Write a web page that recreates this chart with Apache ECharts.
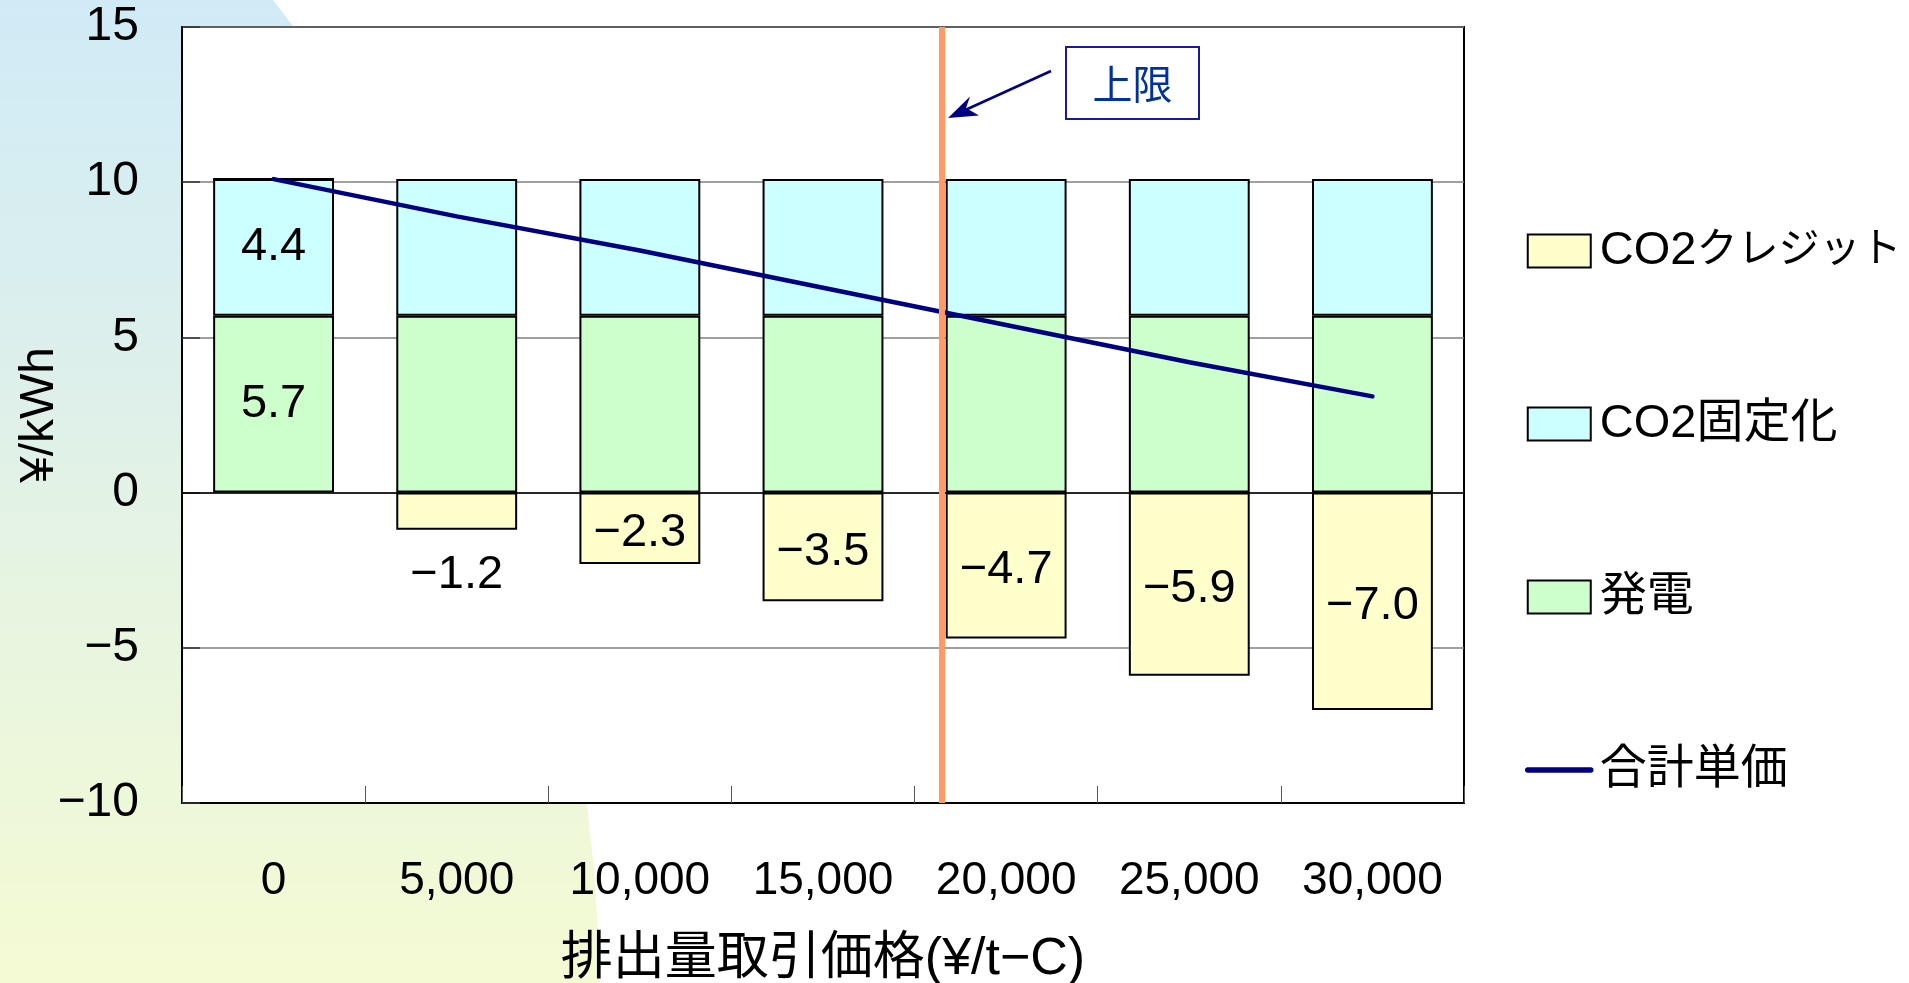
<!DOCTYPE html>
<html>
<head>
<meta charset="utf-8">
<script src="https://cdn.jsdelivr.net/npm/echarts@6/dist/echarts.min.js"></script>
<style>
  html, body { margin: 0; padding: 0; background: #fff; }
  #chart { width: 1909px; height: 983px; }
</style>
</head>
<body>
<div id="chart"></div>
<script>
// Emission trading price categories (¥/t-C) and their tick labels
const priceLabels = ['0', '5,000', '10,000', '15,000', '20,000', '25,000', '30,000'];
const priceStep = 5000;

// Cost components (¥/kWh)
const powerCost = [5.7, 5.7, 5.7, 5.7, 5.7, 5.7, 5.7];
const fixationCost = [4.4, 4.4, 4.4, 4.4, 4.4, 4.4, 4.4];
const creditValue = [0, -1.2, -2.3, -3.5, -4.7, -5.9, -7.0];
const totalCost = [10.1, 8.9, 7.8, 6.6, 5.4, 4.2, 3.1];

// Upper limit of the trading price (¥/t-C)
const upperLimitPrice = 18250;

// Value axis range
const yMin = -10, yMax = 15, yStep = 5;

const NAME_CREDIT = 'CO2クレジット';
const NAME_FIX = 'CO2固定化';
const NAME_POWER = '発電';
const NAME_TOTAL = '合計単価';

const FONT = "'Liberation Sans', 'Noto Sans CJK JP', sans-serif";
const minus = s => String(s).replace('-', '\u2212');

// Legend text: katakana runs are set a little narrower than the rest
const legendText = n => '{s| }' + n.replace(/([\u30A0-\u30FF]+)|([^\u30A0-\u30FF]+)/g,
  (m, kana) => (kana ? '{k|' : '{a|') + m + '}');

// Soft decorative backdrop on the left: outline sampled from a cubic curve
function backdropPoints() {
  const p0 = [273, 0], p1 = [430, 200], p2 = [590, 560], p3 = [600, 983];
  const pts = [[0, 0]];
  for (let i = 0; i <= 40; i++) {
    const t = i / 40, u = 1 - t;
    pts.push([
      u * u * u * p0[0] + 3 * u * u * t * p1[0] + 3 * u * t * t * p2[0] + t * t * t * p3[0],
      u * u * u * p0[1] + 3 * u * u * t * p1[1] + 3 * u * t * t * p2[1] + t * t * t * p3[1]
    ]);
  }
  pts.push([0, 983]);
  return pts;
}

const chart = echarts.init(document.getElementById('chart'));

const barBorder = { borderColor: '#000', borderWidth: 2 };
const firstOnlyLabel = arr => arr.map((v, i) => ({ value: v, label: { show: i === 0 } }));

const option = {
  backgroundColor: '#fff',
  animation: false,
  textStyle: { fontFamily: FONT, color: '#000' },
  grid: {
    left: 182, top: 27, right: 445, bottom: 180,
    containLabel: false, outerBoundsMode: 'none',
    show: true, backgroundColor: '#fff', borderColor: '#000', borderWidth: 2
  },
  legend: {
    orient: 'vertical',
    left: 1520, top: 221,
    itemWidth: 63, itemHeight: 33, itemGap: 123,
    data: [
      { name: NAME_CREDIT, icon: 'rect' },
      { name: NAME_FIX, icon: 'rect' },
      { name: NAME_POWER, icon: 'rect' },
      { name: NAME_TOTAL, icon: 'inherit', itemStyle: { opacity: 0 }, lineStyle: { width: 5.5, cap: 'round' } }
    ],
    formatter: legendText,
    textStyle: {
      fontFamily: FONT, color: '#000', fontSize: 47, lineHeight: 50,
      rich: {
        s: { width: 4, fontSize: 4, lineHeight: 50 },
        a: { fontFamily: FONT, fontSize: 47, lineHeight: 50, color: '#000' },
        k: { fontFamily: FONT, fontSize: 41, lineHeight: 50, color: '#000' }
      }
    },
    selectedMode: false
  },
  xAxis: [{
    type: 'category',
    data: priceLabels,
    boundaryGap: true,
    axisLine: { onZero: false, lineStyle: { color: '#000', width: 2 } },
    axisTick: { show: true, inside: true, length: 17, lineStyle: { color: '#555', width: 1 } },
    axisLabel: { fontFamily: FONT, fontSize: 46, color: '#000', margin: 55, interval: 0 },
    name: '排出量取引価格(¥/t\u2212C)',
    nameLocation: 'middle',
    nameGap: 131,
    nameTextStyle: { fontFamily: FONT, fontSize: 52, color: '#000' },
    splitLine: { show: false }
  }, {
    // continuous price scale aligned with the category centres, used for the limit line
    type: 'value',
    show: false,
    min: -priceStep / 2,
    max: priceStep * (priceLabels.length - 0.5)
  }],
  yAxis: {
    type: 'value',
    min: yMin, max: yMax, interval: yStep,
    axisLine: { show: true, onZero: false, lineStyle: { color: '#000', width: 2 } },
    axisTick: { show: true, inside: true, length: 18, lineStyle: { color: '#333', width: 1.5 } },
    axisLabel: { fontFamily: FONT, fontSize: 48, color: '#000', margin: 43, formatter: v => minus(v) },
    splitLine: { show: true, lineStyle: { color: '#808080', width: 1.5 } },
    name: '¥/kWh',
    nameLocation: 'middle',
    nameGap: 118,
    nameRotate: 90,
    nameMoveOverlap: false,
    nameTextStyle: { fontFamily: FONT, fontSize: 48, color: '#000' }
  },
  series: [
    {
      name: NAME_POWER, type: 'bar', stack: 'cost', barCategoryGap: '34%',
      itemStyle: Object.assign({ color: '#CCFFCC' }, barBorder),
      label: { position: 'inside', fontFamily: FONT, fontSize: 47, color: '#000', formatter: p => p.value.toFixed(1) },
      data: firstOnlyLabel(powerCost),
      markLine: {
        silent: true, symbol: 'none', label: { show: false },
        lineStyle: { color: '#000', width: 1.5, type: 'solid' },
        data: [{ yAxis: 0 }]
      },
      z: 2
    },
    {
      name: NAME_FIX, type: 'bar', stack: 'cost',
      itemStyle: Object.assign({ color: '#CCFFFF' }, barBorder),
      label: { position: 'inside', fontFamily: FONT, fontSize: 47, color: '#000', formatter: p => p.value.toFixed(1) },
      data: firstOnlyLabel(fixationCost),
      z: 2
    },
    {
      name: NAME_CREDIT, type: 'bar', stack: 'cost',
      itemStyle: Object.assign({ color: '#FFFFCC' }, barBorder),
      label: { fontFamily: FONT, fontSize: 47, color: '#000', formatter: p => minus(p.value.toFixed(1)) },
      data: creditValue.map(v => ({
        value: v,
        label: v === 0 ? { show: false }
          : (Math.abs(v) < 2 ? { show: true, position: 'bottom', distance: 22 } : { show: true, position: 'inside', offset: [0, 5] })
      })),
      z: 2
    },
    {
      name: 'limit', type: 'line', xAxisIndex: 1, data: [],
      markLine: {
        silent: true, symbol: 'none', label: { show: false },
        lineStyle: { color: '#FF9966', width: 6, type: 'solid' },
        data: [{ xAxis: upperLimitPrice }]
      },
      z: 3
    },
    {
      name: NAME_TOTAL, type: 'line', data: totalCost,
      symbol: 'none', showSymbol: false,
      lineStyle: { color: '#000080', width: 4.5, cap: 'round' },
      itemStyle: { color: '#000080' },
      z: 4
    }
  ],
  graphic: [
    {
      type: 'polygon', z: -100, silent: true,
      shape: { points: backdropPoints() },
      style: {
        fill: {
          type: 'linear', x: 0, y: 0, x2: 0, y2: 1,
          colorStops: [
            { offset: 0, color: '#D0EBF7' },
            { offset: 0.35, color: '#DCEFEC' },
            { offset: 0.65, color: '#E8F5DF' },
            { offset: 1, color: '#F4FAD3' }
          ]
        }
      }
    },
    {
      type: 'group', z: 100, silent: true,
      children: [
        { type: 'rect', shape: { x: 1066, y: 47, width: 133, height: 72 },
          style: { fill: '#fff', stroke: '#1A1A99', lineWidth: 2 } },
        { type: 'text', x: 1132.5, y: 84,
          style: { text: '上限', fill: '#003399', font: "40px 'Noto Sans CJK JP', sans-serif", align: 'center', verticalAlign: 'middle' } },
        { type: 'line', shape: { x1: 1051, y1: 71, x2: 962, y2: 111.5 },
          style: { stroke: '#000080', lineWidth: 2.5 } },
        { type: 'polygon', shape: { points: [[948, 118], [970, 96.5], [966, 108], [979, 115.5]] },
          style: { fill: '#000080' } }
      ]
    }
  ]
};

chart.setOption(option);
</script>
</body>
</html>
